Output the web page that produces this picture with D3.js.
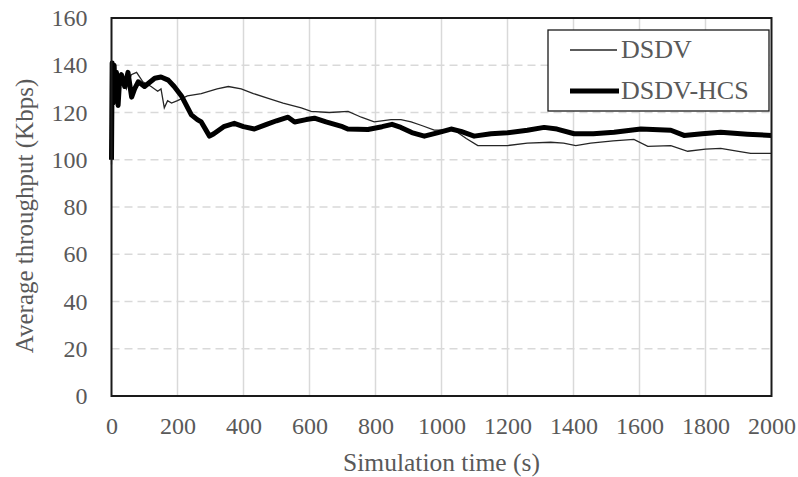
<!DOCTYPE html>
<html>
<head>
<meta charset="utf-8">
<script src="https://cdn.jsdelivr.net/npm/d3@7"></script>
<style>
  body { margin: 0; background: #fff; }
  text { font-family: "Liberation Serif", "Times New Roman", serif; fill: #595959; }
</style>
</head>
<body>
<script>
var xTicks = [0, 200, 400, 600, 800, 1000, 1200, 1400, 1600, 1800, 2000];
var yTicks = [0, 20, 40, 60, 80, 100, 120, 140, 160];
var seriesNames = ['DSDV', 'DSDV-HCS'];

// [time (s), throughput (Kbps)]
var dsdv = [
  [0, 98], [3, 140], [8, 125], [14, 137], [20, 127], [30, 135], [45, 130], [60, 136],
  [76, 137], [95, 133], [120, 131], [140, 129], [150, 130], [160, 122], [170, 125],
  [182, 124], [200, 125], [230, 127], [272, 128], [320, 130], [354, 131], [393, 130],
  [430, 128], [475, 126], [520, 124], [575, 122], [605, 120.5], [660, 120], [717, 120.5],
  [757, 118], [796, 116], [847, 117], [877, 117], [908, 116], [940, 114.5], [978, 112.5],
  [1039, 112.5], [1075, 109], [1110, 106], [1150, 106], [1200, 106], [1260, 107],
  [1331, 107.4], [1370, 107], [1407, 106], [1452, 107], [1520, 108], [1583, 108.6],
  [1625, 105.7], [1695, 106], [1746, 103.6], [1800, 104.5], [1846, 104.8], [1900, 103.5],
  [1937, 102.7], [2000, 102.7]
];

var dsdvHcs = [
  [0, 100], [2, 141], [5, 124], [8, 140], [11, 127], [15, 137], [20, 123], [25, 135],
  [30, 136], [40, 131], [50, 137], [61, 126.5], [70, 130], [81, 133], [100, 131],
  [131, 134.5], [150, 135], [172, 133.7], [190, 131], [212, 127], [242, 119], [260, 117],
  [272, 116], [297, 110], [310, 111], [340, 114], [372, 115.4], [400, 114], [433, 113],
  [470, 115], [500, 116.5], [535, 118], [555, 116], [590, 117], [615, 117.6], [650, 116],
  [700, 114], [716, 113], [777, 112.8], [820, 114], [850, 115], [877, 113.7], [910, 111.5],
  [948, 110], [990, 111.5], [1029, 113], [1059, 112], [1099, 110], [1150, 111], [1200, 111.4],
  [1260, 112.5], [1311, 113.7], [1350, 113], [1402, 111], [1460, 111], [1523, 111.6],
  [1604, 113], [1695, 112.5], [1735, 110.3], [1790, 111], [1846, 111.6], [1927, 110.8],
  [2000, 110.3]
];

var width = 798, height = 477;
var margin = {top: 18, right: 26.5, bottom: 81, left: 111.5};
var w = width - margin.left - margin.right;
var h = height - margin.top - margin.bottom;
var font = '"Liberation Serif", "Times New Roman", serif';

var svg = d3.select('body').append('svg')
    .attr('width', width)
    .attr('height', height);

var g = svg.append('g')
    .attr('transform', 'translate(' + margin.left + ',' + margin.top + ')');

var x = d3.scaleLinear().domain([0, 2000]).range([0, w]);
var y = d3.scaleLinear().domain([0, 160]).range([h, 0]);

// grid
g.selectAll('.vgrid').data(xTicks.slice(1, -1)).enter().append('line')
    .attr('x1', function(d) { return x(d); })
    .attr('x2', function(d) { return x(d); })
    .attr('y1', 0).attr('y2', h)
    .attr('stroke', '#d9d9d9').attr('stroke-width', 1.5);

g.selectAll('.hgrid').data(yTicks.slice(1, -1)).enter().append('line')
    .attr('x1', 0).attr('x2', w)
    .attr('y1', function(d) { return y(d); })
    .attr('y2', function(d) { return y(d); })
    .attr('stroke', '#d9d9d9').attr('stroke-width', 1.5)
    .attr('stroke-dasharray', '8,5');

// axes (labels only)
var xAxis = g.append('g')
    .attr('transform', 'translate(0,' + h + ')')
    .call(d3.axisBottom(x).tickValues(xTicks).tickFormat(d3.format('d')).tickSize(0).tickPadding(21));
var yAxis = g.append('g')
    .call(d3.axisLeft(y).tickValues(yTicks).tickFormat(d3.format('d')).tickSize(0).tickPadding(24));
[xAxis, yAxis].forEach(function(a) {
  a.attr('font-family', font).attr('font-size', 24);
  a.select('.domain').remove();
  a.selectAll('text')
    .style('font-family', font)
    .style('font-size', '24px')
    .attr('fill', '#595959');
});

var line = d3.line()
    .x(function(d) { return x(d[0]); })
    .y(function(d) { return y(d[1]); });

g.append('path').datum(dsdv)
    .attr('d', line)
    .attr('fill', 'none')
    .attr('stroke', '#262626')
    .attr('stroke-width', 1.3);

g.append('path').datum(dsdvHcs)
    .attr('d', line)
    .attr('fill', 'none')
    .attr('stroke', '#000')
    .attr('stroke-width', 5)
    .attr('stroke-linejoin', 'round');

// frame
g.append('rect')
    .attr('width', w).attr('height', h)
    .attr('fill', 'none')
    .attr('stroke', '#1a1a1a')
    .attr('stroke-width', 2);

// legend
var lg = svg.append('g').attr('transform', 'translate(548,30)');
lg.append('rect')
    .attr('width', 221).attr('height', 81)
    .attr('fill', '#fff')
    .attr('stroke', '#1a1a1a').attr('stroke-width', 1.3);
seriesNames.forEach(function(name, i) {
  var ly = 20 + i * 41;
  lg.append('line')
      .attr('x1', 22).attr('x2', i === 0 ? 69 : 71)
      .attr('y1', ly).attr('y2', ly)
      .attr('stroke', i === 0 ? '#262626' : '#000')
      .attr('stroke-width', i === 0 ? 1.3 : 5);
  lg.append('text')
      .attr('x', 73).attr('y', ly + 8)
      .style('font-size', '26px')
      .text(name);
});

// axis titles
svg.append('text')
    .attr('x', margin.left + w / 2)
    .attr('y', 471)
    .attr('text-anchor', 'middle')
    .style('font-size', '25.5px')
    .text('Simulation time (s)');

svg.append('text')
    .attr('transform', 'translate(33,' + 216 + ') rotate(-90)')
    .attr('text-anchor', 'middle')
    .style('font-size', '25px')
    .text('Average throughput (Kbps)');
</script>
</body>
</html>
